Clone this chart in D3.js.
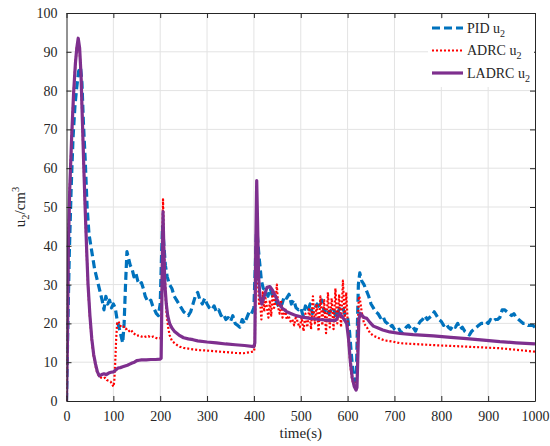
<!DOCTYPE html>
<html lang="en">
<head>
<meta charset="utf-8">
<title>u2 response</title>
<script src="https://cdn.jsdelivr.net/npm/d3@7"></script>
<style>
  body { margin: 0; background: #fff; }
  text { font-family: "Liberation Serif", "Times New Roman", serif; fill: #262626; }
</style>
</head>
<body>
<script>
// axis ticks
var xTicks = [0, 100, 200, 300, 400, 500, 600, 700, 800, 900, 1000];
var yTicks = [0, 10, 20, 30, 40, 50, 60, 70, 80, 90, 100];

// series names
var seriesNames = ["PID", "ADRC", "LADRC"];

// PID u2 [time, value]
var pidData = [
  [0,0],[3,20],[6,38],[10,55],[14,68],[18,76],[22,81],[26,85],[30,86],[33,82],[36,72],[40,62],
  [44,50],[48,43],[52,40],[56,37],[60,34],[64,32],[68,30],[72,28],[76,26],[80,23.5],[84,27],[88,25],
  [92,26],[96,24],[100,25],[104,24],[108,21],[112,19],[116,17],[120,15],[123,20],[126,30],[129,38.5],
  [132,37],[136,35],[140,34],[144,32],[148,33],[152,31],[156,30],[160,30.5],[164,29],[168,27],[172,26],
  [176,25.5],[180,26],[184,24.5],[188,23.5],[192,22.5],[196,22],[200,25],[203,38],[205,45],[208,40],
  [211,35],[215,32],[220,30],[225,29],[230,27],[235,26],[240,25],[245,24],[250,23],[255,22.5],[260,22],
  [265,23],[270,25],[275,27],[280,28],[285,26],[290,25],[295,26.5],[300,25],[305,24],[310,23.5],
  [315,24.5],[320,23],[325,23.5],[330,22],[335,22.5],[340,21],[345,21.5],[350,20.5],[355,22],[360,20],
  [365,19.5],[370,19],[375,21],[380,20],[385,21.5],[390,23],[395,22.5],[400,24],[403,35],[406,45],
  [409,40],[412,36],[416,31],[420,29],[425,28.6],[430,27],[435,29],[440,27],[445,26.5],[450,25],
  [455,24],[460,25],[465,27],[470,26.5],[475,27.5],[480,25],[485,26],[490,24],[495,23.5],[500,24],
  [505,22],[510,24.5],[515,23],[520,25],[525,22.5],[530,24],[535,25],[540,24],[545,26],[550,23],
  [555,24],[560,22.5],[565,23.5],[570,24],[575,21.5],[580,23],[585,24.5],[590,24],[595,22],[600,21.5],
  [604,18],[608,12],[612,7],[616,5],[619,8],[621,20],[623,30],[626,33],[630,31],[635,30],[640,28.5],
  [645,27],[650,25],[655,24],[660,23],[665,22.5],[670,21.5],[675,22],[680,20.5],[685,20],[690,19],
  [695,19.5],[700,18.5],[705,18],[710,18.5],[715,17.5],[720,18],[725,19],[730,19.5],[735,18.5],
  [740,19],[745,18],[750,19.5],[755,20.5],[760,21],[765,22],[770,21],[775,21.5],[780,22],[785,23],
  [790,22],[795,21],[800,20.5],[805,19.5],[810,20],[815,19],[820,18.5],[825,19.5],[830,19],[835,20],
  [840,18.5],[845,19],[850,18],[855,17.5],[860,17],[865,18],[870,18.5],[875,19],[880,19.5],[885,20],
  [890,20],[895,20.5],[900,20],[905,21],[910,20.5],[915,21],[920,21],[925,21.5],[930,23.5],[935,23.5],
  [940,23],[945,22.5],[950,22],[955,22.5],[960,21.5],[965,21],[970,20.5],[975,20],[980,20],[985,19.5],
  [990,19.5],[995,19.5],[1000,19]
];

// ADRC u2 [time, value]
var adrcData = [
  [0,0],[2,15],[4,40],[7,55],[11,68],[15,79],[19,87],[22,91],[25,93],[28,90.5],[31,83.5],[34,71.5],
  [37,59.5],[40,48.5],[43,38.5],[46,29.5],[50,21.5],[54,15.5],[58,11.5],[62,9],[66,7],[70,6.5],
  [74,6],[78,5.8],[82,6],[86,5.4],[90,5.2],[94,5],[97,4.5],[100,3.7],[102,5],[104,10],[106,16],
  [108,20],[111,20.5],[114,19.5],[118,19],[122,19.2],[126,18.5],[130,18.7],[134,18],[138,18.3],
  [142,17.5],[146,17.2],[150,16.8],[155,16.9],[160,16.6],[165,16.8],[170,16.5],[175,16.7],[180,16.4],
  [185,16.6],[190,16.3],[195,16.1],[200,16.2],[202,16.5],[204,35],[206,52],[208,40],[210,32],[212,26],
  [214,22],[217,19],[220,17],[225,15.5],[230,15],[235,14.5],[242,14],[250,13.7],[260,13.5],[270,13.3],
  [285,13.1],[300,13],[320,12.8],[340,12.6],[360,12.4],[377,12.3],[392,12.6],[400,12.8],[402,14],
  [404,35],[405.5,46],[407,38],[409,30],[411,25],[413,26],[416,21],[419,28],[422,23],[425,26.5],
  [428,24],[431,21.5],[434,26],[437,22],[440,28],[443,24],[446,25.5],[449,30],[452,24],[455,22.5],
  [458,26],[461,21.5],[464,22.5],[467,24],[470,21],[474,22],[478,20.5],[482,21],[486,19.5],[490,22],
  [494,20],[498,19],[502,21.5],[506,18],[510,22.5],[514,19],[518,24],[522,18.5],[526,27],[530,20],
  [534,25],[538,18],[542,27],[546,19.5],[550,26],[554,17.5],[558,28],[562,19],[566,26.5],[570,18.5],
  [574,29],[578,20],[582,27.5],[586,19],[590,31],[594,21],[597,28],[600,21],[603,14],[606,9],[609,6],
  [612,4.5],[615,4],[618,3.5],[620,6],[622,20],[624,27],[626,26.5],[630,23],[635,20],[641,19],
  [648,17.5],[655,16.8],[662,16.5],[670,16],[680,15.6],[697,15.3],[712,14.9],[740,14.7],[783,14.4],
  [820,14.2],[854,14],[890,13.8],[925,13.6],[960,13.2],[1000,12.7]
];

// LADRC u2 [time, value]
var ladrcData = [
  [0,0],[2,15],[4,40],[7,55],[11,68],[15,79],[19,87],[22,91],[25,93.5],[28,91],[31,84],[34,72],
  [37,60],[40,49],[43,39],[46,30],[50,22],[54,16],[58,12],[62,9.5],[66,7.5],[70,6.5],[75,6.8],[80,7],
  [85,6.8],[90,7.2],[95,7.4],[100,7.5],[105,8],[110,8.5],[115,8.6],[120,8.8],[125,9],[130,9.2],
  [135,9.5],[140,9.8],[145,10],[150,10.4],[155,10.5],[160,10.6],[170,10.6],[180,10.7],[190,10.7],
  [200,10.8],[202,11],[204,30],[206,48.8],[208,38],[210,30],[213,25],[216,22],[220,20],[225,18.8],
  [230,18],[240,17],[250,16.3],[260,16],[270,15.8],[280,15.5],[300,15.2],[320,15],[340,14.7],
  [360,14.5],[380,14.3],[400,14],[402,15],[404,40],[406,56.8],[408,45],[410,32],[413,27],[417,25],
  [422,27],[428,29.3],[434,29.5],[440,28.5],[446,27],[452,25.5],[460,24],[470,23],[480,22.5],[490,22],
  [500,21.7],[520,21.3],[540,21],[560,20.8],[575,20.8],[583,22.5],[590,21.5],[598,20],[602,16],
  [606,10],[610,6],[614,3.8],[618,2.8],[620,3.5],[622,12],[624,21],[627,22.6],[630,22.2],[635,21.5],
  [641,21.3],[648,20.2],[655,19.3],[665,18.8],[675,18.3],[690,17.8],[712,17.4],[740,17.1],[783,16.8],
  [820,16.4],[854,16.1],[890,15.7],[925,15.3],[960,15],[1000,14.7]
];

var w = 550, h = 446;
var padL = 66.5, padR = 535, padT = 13, padB = 401;

var svg = d3.select("body").append("svg").attr("width", w).attr("height", h);

var xScale = d3.scaleLinear().domain([0, 1000]).range([padL, padR]);
var yScale = d3.scaleLinear().domain([0, 100]).range([padB, padT]);

// grid
svg.append("g").selectAll("line").data(xTicks.slice(1, -1)).enter().append("line")
  .attr("x1", function(d){ return xScale(d); }).attr("x2", function(d){ return xScale(d); })
  .attr("y1", padT).attr("y2", padB)
  .attr("stroke", "#e3e3e3").attr("stroke-width", 1);
svg.append("g").selectAll("line").data(yTicks.slice(1, -1)).enter().append("line")
  .attr("y1", function(d){ return yScale(d); }).attr("y2", function(d){ return yScale(d); })
  .attr("x1", padL).attr("x2", padR)
  .attr("stroke", "#e3e3e3").attr("stroke-width", 1);

svg.append("clipPath").attr("id", "clip").append("rect")
  .attr("x", padL).attr("y", padT).attr("width", padR - padL).attr("height", padB - padT);

var line = d3.line().x(function(d){ return xScale(d[0]); }).y(function(d){ return yScale(d[1]); });

var styles = [
  {data: pidData, color: "#0072BD", width: 3.2, dash: "8,4"},
  {data: adrcData, color: "#FF0000", width: 2.2, dash: "2,2"},
  {data: ladrcData, color: "#7E2F8E", width: 3.2, dash: null}
];

var plot = svg.append("g").attr("clip-path", "url(#clip)");
styles.forEach(function(s){
  plot.append("path").datum(s.data)
    .attr("d", line)
    .attr("fill", "none")
    .attr("stroke", s.color)
    .attr("stroke-width", s.width)
    .attr("stroke-linejoin", "round")
    .attr("stroke-dasharray", s.dash);
});

// axes (box with inward ticks)
var fmt = d3.format("d");
var xAxisB = d3.axisBottom(xScale).tickValues(xTicks).tickFormat(fmt).tickSizeInner(-5).tickSizeOuter(0).tickPadding(10);
var yAxisL = d3.axisLeft(yScale).tickValues(yTicks).tickFormat(fmt).tickSizeInner(-5).tickSizeOuter(0).tickPadding(9);
var xAxisT = d3.axisTop(xScale).tickValues(xTicks).tickSizeInner(-5).tickSizeOuter(0).tickFormat("");
var yAxisR = d3.axisRight(yScale).tickValues(yTicks).tickSizeInner(-5).tickSizeOuter(0).tickFormat("");

function styleAxis(g) {
  g.select(".domain").attr("stroke", "#262626").attr("stroke-width", 1);
  g.selectAll(".tick line").attr("stroke", "#262626");
  g.selectAll(".tick text").style("font-size", "14px").style("font-family", "Liberation Serif").attr("fill", "#262626");
}

svg.append("g").attr("transform", "translate(0," + padB + ")").call(xAxisB).call(styleAxis);
svg.append("g").attr("transform", "translate(" + padL + ",0)").call(yAxisL).call(styleAxis);
svg.append("g").attr("transform", "translate(0," + padT + ")").call(xAxisT).call(styleAxis);
svg.append("g").attr("transform", "translate(" + padR + ",0)").call(yAxisR).call(styleAxis);

// axis labels
svg.append("text").attr("x", (padL + padR) / 2).attr("y", 438)
  .attr("text-anchor", "middle").style("font-size", "15px").text("time(s)");

var yl = svg.append("text").attr("transform", "translate(25," + ((padT + padB) / 2) + ") rotate(-90)")
  .attr("text-anchor", "middle").style("font-size", "15px");
yl.append("tspan").text("u");
yl.append("tspan").attr("dy", 4).style("font-size", "10.5px").text("2");
yl.append("tspan").attr("dy", -4).text("/cm");
yl.append("tspan").attr("dy", -6).style("font-size", "10.5px").text("3");

// legend
var legend = svg.append("g");
legend.append("rect").attr("x", 428).attr("y", 19).attr("width", 106).attr("height", 68).attr("fill", "#fff");
styles.forEach(function(s, i){
  var yy = 28 + i * 22.5;
  legend.append("line").attr("x1", 432).attr("x2", 463).attr("y1", yy).attr("y2", yy)
    .attr("stroke", s.color).attr("stroke-width", s.width)
    .attr("stroke-dasharray", s.dash);
  var t = legend.append("text").attr("x", 467).attr("y", yy + 4.5).style("font-size", "14px");
  t.append("tspan").text(seriesNames[i] + " u");
  t.append("tspan").attr("dy", 4).style("font-size", "10px").text("2");
});
</script>
</body>
</html>
